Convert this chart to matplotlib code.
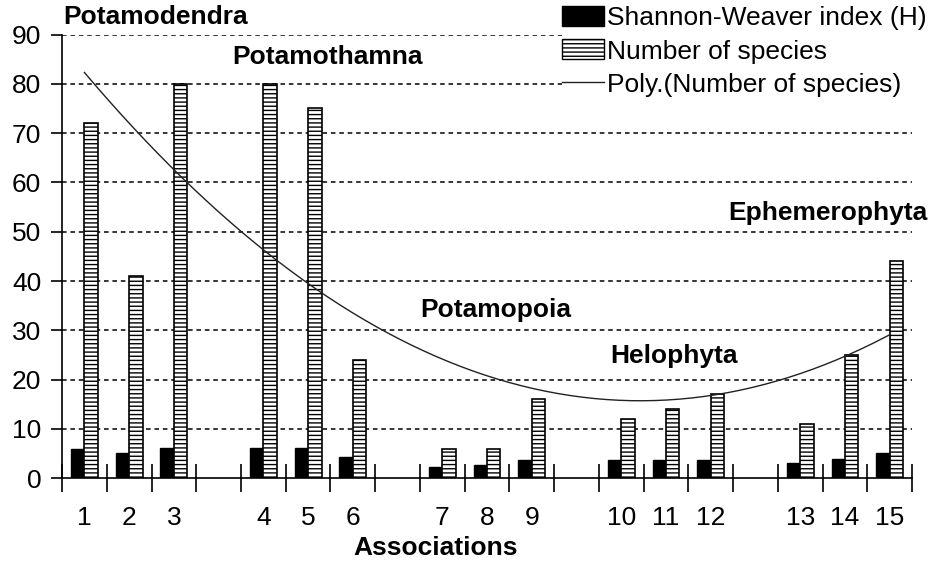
import numpy as np
import matplotlib
matplotlib.use("Agg")
import matplotlib.pyplot as plt
from matplotlib.patches import Patch
from matplotlib.lines import Line2D

# Les associations, avec des cases vides entre les groupes
associations = ["1", "2", "3", "", "4", "5", "6", "", "7", "8", "9", "", "10", "11", "12", "", "13", "14", "15"]
shannon = [5.9, 5.1, 6.2, None, 6.2, 6.2, 4.4, None, 2.2, 2.6, 3.7, None, 3.7, 3.7, 3.7, None, 3.0, 4.0, 5.1]
nb_species = [72, 41, 80, None, 80, 75, 24, None, 6, 6, 16, None, 12, 14, 17, None, 11, 25, 44]

groupes = ["Potamodendra", "Potamothamna", "Potamopoia", "Helophyta", "Ephemerophyta"]

plt.rcParams["font.family"] = ["Liberation Sans", "DejaVu Sans"]
plt.rcParams["font.size"] = 19
plt.rcParams["hatch.linewidth"] = 1.0

fig = plt.figure(figsize=(9.3, 5.62), dpi=100)
ax = fig.add_axes([0.0667, 0.149, 0.914, 0.7896])

x = np.arange(len(associations))
idx = [i for i in x if nb_species[i] is not None]
h = np.array([shannon[i] for i in idx])
n = np.array([nb_species[i] for i in idx])

# Barres
ax.bar(np.array(idx) - 0.15, h, width=0.3, color="black", edgecolor="black", linewidth=1)
ax.bar(np.array(idx) + 0.15, n, width=0.3, color="white", edgecolor="black", linewidth=1.2, hatch="----")

# Courbe de tendance polynomiale (ordre 2)
coef = np.polyfit(np.array(idx) + 1, n, 2)
xs = np.linspace(0, len(associations) - 1, 200)
ax.plot(xs, np.polyval(coef, xs + 1), color="#222222", linewidth=1)

# Axes
ax.set_xlim(-0.5, len(associations) - 0.5)
ax.set_ylim(0, 90)
ax.set_yticks(range(0, 91, 10))
ax.set_xticks(x)
ax.set_xticklabels(associations)
ax.set_xticks(np.arange(len(associations) + 1) - 0.5, minor=True)
ax.tick_params(axis="x", which="major", length=0, pad=20)
ax.tick_params(axis="x", which="minor", direction="inout", length=20, width=1.2)
ax.tick_params(axis="y", direction="out", length=8, width=1.2, pad=7)
for s in ["top", "right"]:
    ax.spines[s].set_visible(False)
for s in ["left", "bottom"]:
    ax.spines[s].set_linewidth(1.2)

ax.set_axisbelow(True)
for v in range(10, 91, 10):
    ax.axhline(v, color="black", linewidth=1.1, linestyle=(0, (3, 2.5)), zorder=0.5)

# Noms des groupes
pos_groupes = [(-0.48, 93.5), (3.3, 85.4), (7.5, 34.2), (11.75, 24.7), (14.39, 53.9)]
for g, (gx, gy) in zip(groupes, pos_groupes):
    ax.text(gx, gy, g, fontweight="bold", ha="left", va="center", clip_on=False)

fig.text(436 / 930, 1 - 548 / 562, "Associations", fontweight="bold", ha="center", va="center")

# Légende
handles = [
    Patch(facecolor="black", edgecolor="black"),
    Patch(facecolor="white", edgecolor="black", hatch="----"),
    Line2D([0], [0], color="#222222", linewidth=1),
]
labels = ["Shannon-Weaver index (H)", "Number of species", "Poly.(Number of species)"]
leg = ax.legend(handles, labels, loc="upper left", bbox_to_anchor=(562 / 930, 1 - 6 / 562),
                bbox_transform=fig.transFigure, frameon=True, fancybox=False, edgecolor="none",
                facecolor="white", framealpha=1, borderpad=0, borderaxespad=0,
                handlelength=1.6, handleheight=0.8, handletextpad=0.1, labelspacing=0.34)

fig.savefig("out.png", dpi=100)
